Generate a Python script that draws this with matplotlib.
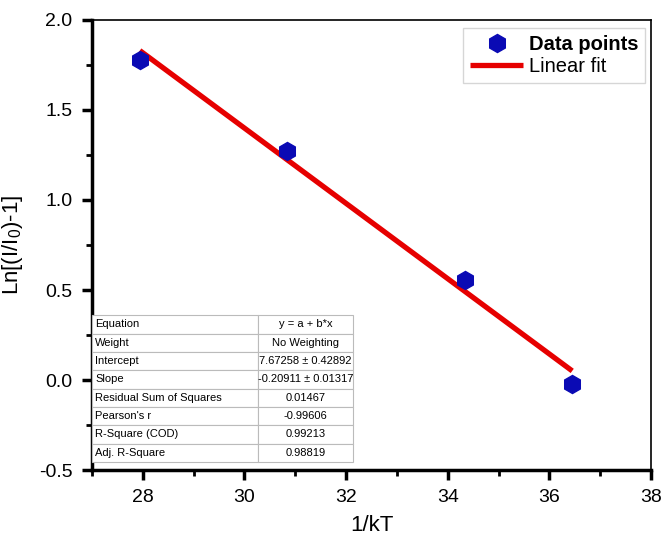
import matplotlib
matplotlib.use("Agg")
import matplotlib.pyplot as plt
import numpy as np
from matplotlib.ticker import MultipleLocator

plt.rcParams['font.family'] = ['Liberation Sans', 'DejaVu Sans']
plt.rcParams['mathtext.fontset'] = 'custom'
plt.rcParams['mathtext.rm'] = 'Liberation Sans'
plt.rcParams['mathtext.it'] = 'Liberation Sans'

x_data = [27.94, 30.84, 34.34, 36.45]
y_data = [1.775, 1.27, 0.556, -0.022]
intercept = 7.67258
slope = -0.20911

row_labels = ["Equation", "Weight", "Intercept", "Slope", "Residual Sum of Squares",
              "Pearson's r", "R-Square (COD)", "Adj. R-Square"]
row_values = ["y = a + b*x", "No Weighting", "7.67258 \u00b1 0.42892", "-0.20911 \u00b1 0.01317",
              "0.01467", "-0.99606", "0.99213", "0.98819"]

fig = plt.figure(figsize=(6.64, 5.4), dpi=100)
ax = fig.add_axes([0.1386, 0.1296, 0.8418, 0.8334])

x_fit = np.array([min(x_data), max(x_data)])
y_fit = intercept + slope * x_fit
ax.plot(x_fit, y_fit, color='#e60000', lw=3.8, solid_capstyle='butt', label='Linear fit', zorder=2)
ax.plot(x_data, y_data, linestyle='none', marker='h', markersize=13, color='#0a0ab4',
        markeredgecolor='#0a0ab4', label='Data points', zorder=3)

ax.set_xlim(27, 38)
ax.set_ylim(-0.5, 2.0)
ax.xaxis.set_major_locator(MultipleLocator(2))
ax.xaxis.set_minor_locator(MultipleLocator(1))
ax.yaxis.set_major_locator(MultipleLocator(0.5))
ax.yaxis.set_minor_locator(MultipleLocator(0.25))
ax.yaxis.set_major_formatter(matplotlib.ticker.FormatStrFormatter('%.1f'))
ax.tick_params(which='major', direction='out', length=7, width=2.5, labelsize=14, pad=7)
ax.tick_params(which='minor', direction='out', length=4, width=2)
ax.tick_params(top=False, right=False, which='both')
for s in ['left', 'bottom']:
    ax.spines[s].set_linewidth(2.5)
for s in ['top', 'right']:
    ax.spines[s].set_linewidth(1.2)

ax.set_xlabel('1/kT', fontsize=16, labelpad=6)
ax.set_ylabel('Ln[(I/I$_0$)-1]', fontsize=16, labelpad=10)

handles, labels = ax.get_legend_handles_labels()
leg = ax.legend([handles[1], handles[0]], [labels[1], labels[0]], loc='upper right',
                bbox_to_anchor=(0.997, 0.992), fontsize=14.5, frameon=True, fancybox=False,
                edgecolor='#cccccc', handlelength=2.6, handletextpad=0.3, borderpad=0.35,
                labelspacing=0.15, borderaxespad=0.2)
leg.get_frame().set_linewidth(1.0)
leg.get_texts()[0].set_fontweight('bold')

cells = [[a, b] for a, b in zip(row_labels, row_values)]
tbl = ax.table(cellText=cells, bbox=[0.0, 0.018, 0.467, 0.326], colWidths=[0.636, 0.364],
               zorder=5)
tbl.auto_set_font_size(False)
tbl.set_fontsize(8)
for (r, c), cell in tbl.get_celld().items():
    cell.set_edgecolor('#bbbbbb')
    cell.set_linewidth(0.8)
    cell.set_facecolor('white')
    if c == 0:
        cell.set_text_props(ha='left')
        cell.PAD = 0.02
    else:
        cell.set_text_props(ha='center')

fig.savefig('out.png', dpi=100)
